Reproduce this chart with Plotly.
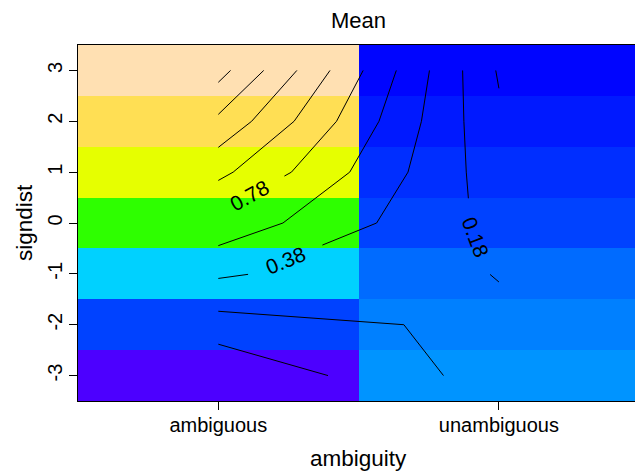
import colorsys
import math
import plotly.graph_objects as go

# Factor levels and the signdist grid
ambiguity = ["ambiguous", "unambiguous"]
signdist = [-3, -2, -1, 0, 1, 2, 3]
signdist_labels = ["-3", "-2", "-1", "0", "1", "2", "3"]

# Fitted mean per cell, listed from signdist = -3 up to 3
mean_ambiguous = [-0.21, 0.098, 0.408, 0.718, 1.031, 1.337, 1.654]
mean_unambiguous = [0.276, 0.222, 0.172, 0.119, 0.068, 0.015, -0.039]

# Step of the 50-colour topo palette that fills each cell
shade_ambiguous = [0, 7, 14, 22, 31, 40, 49]
shade_unambiguous = [11, 10, 9, 7, 6, 5, 4]

# Contour levels; the labelled ones carry their value written on the line
levels_plain = [-0.02, 0.58, 0.98, 1.18, 1.38, 1.58]
levels_labelled = [0.78, 0.38, 0.18]
label_at_signdist = [0.54, -0.73, -0.28]   # where along each line its label sits

# Page / plot-area geometry
FIG_W, FIG_H = 635, 471
MARGIN = dict(l=78, r=0, t=45, b=70)
X_RANGE = [-0.5, 1.485]
Y_RANGE = [-3.5, 3.5]
KX = (FIG_W - MARGIN["l"] - MARGIN["r"]) / (X_RANGE[1] - X_RANGE[0])
KY = (FIG_H - MARGIN["t"] - MARGIN["b"]) / (Y_RANGE[1] - Y_RANGE[0])
LABEL_GAP = 80  # px of line removed around a label


def topo_colors(n):
    """R's topo.colors(n)."""
    j = n // 3
    k = n // 3
    i = n - j - k

    def seq(a, b, m):
        return [a + (b - a) * t / (m - 1) for t in range(m)] if m > 1 else [a]

    hsv = [(h, 1.0, 1.0) for h in seq(43 / 60, 31 / 60, j)]
    hsv += [(h, 1.0, 1.0) for h in seq(23 / 60, 11 / 60, k)]
    hsv += list(zip(seq(10 / 60, 6 / 60, i), seq(1.0, 0.3, i), [1.0] * i))
    out = []
    for h, s, v in hsv:
        r, g, b = colorsys.hsv_to_rgb(h, s, v)
        out.append("#%02X%02X%02X" % (round(r * 255), round(g * 255), round(b * 255)))
    return out


def contour_segments(xs, ys, grid, level):
    """Marching squares; saddles resolved by the cell-centre average."""
    segs = []
    for i in range(len(ys) - 1):
        for j in range(len(xs) - 1):
            pts = {"BL": (xs[j], ys[i]), "BR": (xs[j + 1], ys[i]),
                   "TR": (xs[j + 1], ys[i + 1]), "TL": (xs[j], ys[i + 1])}
            val = {"BL": grid[i][j], "BR": grid[i][j + 1],
                   "TR": grid[i + 1][j + 1], "TL": grid[i + 1][j]}
            edges = {"b": ("BL", "BR"), "r": ("BR", "TR"),
                     "t": ("TR", "TL"), "l": ("TL", "BL")}
            hit = {}
            for e, (a, b) in edges.items():
                if (val[a] > level) != (val[b] > level):
                    t = (level - val[a]) / (val[b] - val[a])
                    pa, pb = pts[a], pts[b]
                    hit[e] = (pa[0] + t * (pb[0] - pa[0]), pa[1] + t * (pb[1] - pa[1]))
            if len(hit) == 2:
                p, q = hit.values()
                segs.append((p, q))
            elif len(hit) == 4:
                centre_up = sum(val.values()) / 4 > level
                if centre_up == (val["BL"] > level):
                    segs += [(hit["b"], hit["r"]), (hit["t"], hit["l"])]
                else:
                    segs += [(hit["l"], hit["b"]), (hit["t"], hit["r"])]
    return segs


def chain(segs):
    key = lambda p: (round(p[0], 8), round(p[1], 8))
    remaining = list(segs)
    paths = []
    while remaining:
        a, b = remaining.pop()
        path = [a, b]
        grown = True
        while grown:
            grown = False
            for k, (p, q) in enumerate(remaining):
                if key(p) == key(path[-1]):
                    path.append(q)
                elif key(q) == key(path[-1]):
                    path.append(p)
                elif key(q) == key(path[0]):
                    path.insert(0, p)
                elif key(p) == key(path[0]):
                    path.insert(0, q)
                else:
                    continue
                remaining.pop(k)
                grown = True
                break
        paths.append(path)
    return paths


def to_px(p):
    return ((p[0] - X_RANGE[0]) * KX, (Y_RANGE[1] - p[1]) * KY)


def split_for_label(path, target_y, gap):
    """Cut a gap into the path where it passes target_y; return pieces, centre, angle."""
    pix = [to_px(p) for p in path]
    cum = [0.0]
    for k in range(1, len(pix)):
        cum.append(cum[-1] + math.dist(pix[k - 1], pix[k]))
    for k in range(1, len(path)):
        y0, y1 = path[k - 1][1], path[k][1]
        if y0 != y1 and (y0 - target_y) * (y1 - target_y) <= 0:
            t = (target_y - y0) / (y1 - y0)
            s_c = cum[k - 1] + t * (cum[k] - cum[k - 1])
            seg = k
            break
    else:
        return None

    def point_at(s):
        s = min(max(s, 0.0), cum[-1])
        for k in range(1, len(cum)):
            if s <= cum[k] or k == len(cum) - 1:
                f = 0.0 if cum[k] == cum[k - 1] else (s - cum[k - 1]) / (cum[k] - cum[k - 1])
                a, b = path[k - 1], path[k]
                return (a[0] + f * (b[0] - a[0]), a[1] + f * (b[1] - a[1]))

    s0, s1 = s_c - gap / 2, s_c + gap / 2
    pieces = []
    if s0 > 0:
        pieces.append([p for p, c in zip(path, cum) if c < s0] + [point_at(s0)])
    if s1 < cum[-1]:
        pieces.append([point_at(s1)] + [p for p, c in zip(path, cum) if c > s1])
    dx = pix[seg][0] - pix[seg - 1][0]
    dy = pix[seg][1] - pix[seg - 1][1]
    ang = math.degrees(math.atan2(dy, dx))
    if ang > 90:
        ang -= 180
    elif ang <= -90:
        ang += 180
    return pieces, point_at(s_c), ang


N_COL = 50
palette = topo_colors(N_COL)
stepped = []
for idx, col in enumerate(palette):
    stepped.append([idx / N_COL, col])
    stepped.append([(idx + 1) / N_COL, col])

x_pos = list(range(len(ambiguity)))
shade_grid = [[a, u] for a, u in zip(shade_ambiguous, shade_unambiguous)]
mean_grid = [[a, u] for a, u in zip(mean_ambiguous, mean_unambiguous)]

fig = go.Figure()

fig.add_trace(go.Heatmap(
    x=x_pos, y=signdist, z=shade_grid,
    colorscale=stepped, zmin=-0.5, zmax=N_COL - 0.5,
    showscale=False, hoverinfo="skip",
))

line_style = dict(color="black", width=1)
label_font = dict(family="Liberation Sans, Arial, sans-serif", size=21, color="black")


def add_line(pts):
    fig.add_trace(go.Scatter(
        x=[p[0] for p in pts], y=[p[1] for p in pts], mode="lines",
        line=line_style, hoverinfo="skip", showlegend=False,
    ))


for lv in levels_plain:
    for path in chain(contour_segments(x_pos, signdist, mean_grid, lv)):
        add_line(path)

for lv, ty in zip(levels_labelled, label_at_signdist):
    labelled = False
    for path in chain(contour_segments(x_pos, signdist, mean_grid, lv)):
        res = None if labelled else split_for_label(path, ty, LABEL_GAP)
        if res is None:
            add_line(path)
            continue
        pieces, centre, ang = res
        labelled = True
        for piece in pieces:
            add_line(piece)
        fig.add_annotation(
            x=centre[0], y=centre[1], xref="x", yref="y",
            text=f"{lv:.2f}", textangle=ang, showarrow=False,
            font=label_font, xanchor="center", yanchor="middle",
        )

axis_font = dict(family="Liberation Sans, Arial, sans-serif", size=20, color="black")

fig.update_xaxes(
    range=X_RANGE, tickvals=x_pos, ticktext=ambiguity,
    ticks="outside", ticklen=8, tickcolor="black", tickwidth=1,
    showline=True, linecolor="black", linewidth=1, mirror=True,
    showgrid=False, zeroline=False, tickfont=axis_font,
    ticklabelstandoff=-2,
)
fig.update_yaxes(
    range=Y_RANGE, tickvals=signdist, ticktext=signdist_labels, tickangle=-90,
    ticks="outside", ticklen=8, tickcolor="black", tickwidth=1,
    showline=True, linecolor="black", linewidth=1, mirror=False,
    showgrid=False, zeroline=False, tickfont=axis_font,
    ticklabelstandoff=-1,
)

title_font = dict(family="Liberation Sans, Arial, sans-serif", size=22, color="black")
lab_font = dict(family="Liberation Sans, Arial, sans-serif", size=22.5, color="black")
fig.add_annotation(text="Mean", xref="paper", yref="paper", x=0.504, y=1,
                   yanchor="middle", yshift=25, showarrow=False, font=title_font)
fig.add_annotation(text="ambiguity", xref="paper", yref="paper", x=0.504, y=0,
                   yanchor="middle", yshift=-57, showarrow=False, font=lab_font)
fig.add_annotation(text="signdist", xref="paper", yref="paper", x=0, y=0.5,
                   xanchor="center", xshift=-54, textangle=-90,
                   showarrow=False, font=lab_font)

fig.update_layout(
    width=FIG_W, height=FIG_H,
    margin=MARGIN,
    paper_bgcolor="white", plot_bgcolor="white",
    showlegend=False,
)

fig.write_html("out.html")
